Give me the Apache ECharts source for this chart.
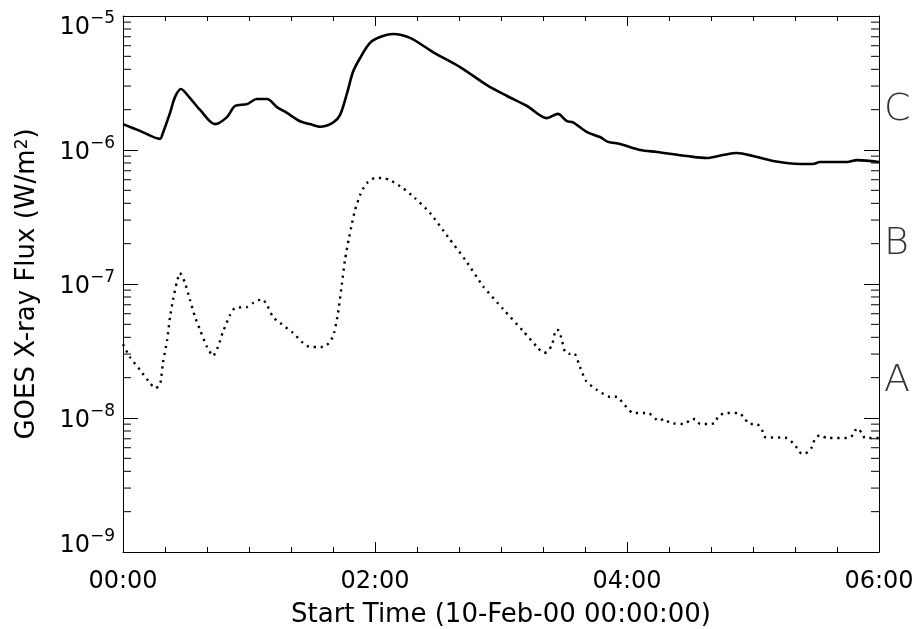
<!DOCTYPE html>
<html>
<head>
<meta charset="utf-8">
<script src="https://cdn.jsdelivr.net/npm/echarts@6/dist/echarts.min.js"></script>
<style>
  html, body { margin: 0; padding: 0; background: #fff; }
  #chart { width: 917px; height: 629px; }
</style>
</head>
<body>
<div id="chart"></div>
<script>
// minutes after 10-Feb-00 00:00:00
const longTimes = [0, 8.1, 17.6, 19.0, 22.4, 24.8, 27.6, 31.9, 36.7, 43.8, 49.5, 53.3, 59.0, 63.8, 68.6, 73.3, 78.1, 84.3, 89.0, 93.8, 100.0, 103.3, 106.7, 109.5, 112.9, 117.6, 122.4, 128.6, 136.7, 147.6, 160.5, 173.3, 182.9, 192.4, 201.9, 207.1, 211.4, 214.3, 221.0, 227.1, 231.0, 236.7, 246.2, 254.3, 268.6, 278.1, 285.7, 292.4, 300.0, 309.5, 322.4, 328.6, 331.9, 344.8, 349.5, 360]
const longFlux = [1.56e-6, 1.39e-6, 1.21e-6, 1.34e-6, 1.89e-6, 2.49e-6, 2.85e-6, 2.44e-6, 1.99e-6, 1.56e-6, 1.76e-6, 2.13e-6, 2.20e-6, 2.40e-6, 2.40e-6, 2.09e-6, 1.89e-6, 1.64e-6, 1.56e-6, 1.49e-6, 1.60e-6, 1.82e-6, 2.66e-6, 3.82e-6, 4.86e-6, 6.30e-6, 6.97e-6, 7.34e-6, 6.86e-6, 5.38e-6, 4.16e-6, 3.05e-6, 2.53e-6, 2.13e-6, 1.73e-6, 1.86e-6, 1.64e-6, 1.61e-6, 1.36e-6, 1.25e-6, 1.15e-6, 1.11e-6, 1.0e-6, 9.66e-7, 9.02e-7, 8.71e-7, 9.18e-7, 9.50e-7, 9.02e-7, 8.28e-7, 7.87e-7, 7.87e-7, 8.13e-7, 8.13e-7, 8.41e-7, 8.13e-7]

const shortTimes = [0, 3.3, 8.1, 12.9, 15.2, 17.6, 19.0, 21.0, 22.4, 23.8, 25.7, 27.1, 29.5, 31.9, 34.3, 36.7, 40.0, 42.9, 45.2, 47.6, 51.0, 53.3, 59.0, 61.9, 66.2, 68.6, 71.4, 74.8, 81.0, 85.7, 89.0, 92.4, 95.2, 98.6, 100.5, 102.4, 104.3, 105.7, 107.6, 109.0, 110.5, 112.9, 114.8, 116.7, 120.0, 123.8, 127.1, 133.3, 139.0, 146.2, 154.8, 163.3, 171.4, 181.0, 190.5, 197.6, 200.5, 202.4, 204.3, 206.2, 207.1, 208.6, 210.5, 212.4, 214.8, 217.6, 220.5, 225.7, 231.9, 235.2, 238.1, 242.9, 250.0, 255.2, 257.6, 260.5, 267.6, 270.0, 272.4, 274.8, 278.6, 281.9, 283.3, 286.7, 293.3, 296.2, 298.1, 301.9, 304.3, 305.7, 316.2, 319.0, 321.0, 323.3, 326.2, 328.1, 329.5, 331.9, 335.2, 345.2, 347.6, 349.5, 351.9, 353.3, 360]
const shortFlux = [3.55e-8, 2.85e-8, 2.28e-8, 1.82e-8, 1.67e-8, 1.76e-8, 2.57e-8, 3.82e-8, 5.67e-8, 7.60e-8, 1.04e-7, 1.21e-7, 1.02e-7, 7.60e-8, 5.67e-8, 4.54e-8, 3.39e-8, 2.90e-8, 3.39e-8, 4.39e-8, 5.87e-8, 6.62e-8, 6.73e-8, 7.21e-8, 7.73e-8, 6.97e-8, 5.67e-8, 5.12e-8, 4.31e-8, 3.63e-8, 3.39e-8, 3.39e-8, 3.39e-8, 3.69e-8, 4.31e-8, 6.08e-8, 1.02e-7, 1.51e-7, 2.20e-7, 2.81e-7, 3.57e-7, 4.61e-7, 5.30e-7, 5.77e-7, 6.18e-7, 6.18e-7, 5.97e-7, 5.20e-7, 4.38e-7, 3.39e-7, 2.24e-7, 1.49e-7, 9.66e-8, 6.50e-8, 4.46e-8, 3.33e-8, 3.05e-8, 3.16e-8, 3.51e-8, 4.54e-8, 4.54e-8, 4.02e-8, 3.11e-8, 3.01e-8, 3.05e-8, 2.40e-8, 1.89e-8, 1.62e-8, 1.44e-8, 1.44e-8, 1.29e-8, 1.09e-8, 1.09e-8, 9.50e-9, 9.84e-9, 9.18e-9, 9.02e-9, 9.66e-9, 9.84e-9, 9.02e-9, 9.02e-9, 9.18e-9, 1.02e-8, 1.09e-8, 1.09e-8, 9.84e-9, 9.02e-9, 9.02e-9, 8.13e-9, 7.21e-9, 7.09e-9, 6.50e-9, 5.97e-9, 5.38e-9, 5.57e-9, 6.08e-9, 6.97e-9, 7.46e-9, 7.09e-9, 7.09e-9, 7.46e-9, 8.41e-9, 7.73e-9, 7.09e-9, 7.09e-9]

// GOES class letters on the right side
const classNames = ['A', 'B', 'C']
const classLevels = [1.9e-8, 2e-7, 2e-6]

const xMin = 0
const xMax = 360
const yMin = 1e-9
const yMax = 1e-5

// log minor ticks 2..9 in each decade
const minorTickValues = []
for (let e = -9; e < -5; e++) {
  for (let k = 2; k <= 9; k++) {
    minorTickValues.push(k * Math.pow(10, e))
  }
}

const font = 'DejaVu Sans'

function hhmm(v) {
  const h = Math.floor(v / 60)
  const m = Math.round(v % 60)
  return String(h).padStart(2, '0') + ':' + String(m).padStart(2, '0')
}

const chart = echarts.init(document.getElementById('chart'))

const xAxisBase = {
  type: 'value',
  min: xMin,
  max: xMax,
  interval: 120,
  splitLine: { show: false },
  axisLine: { show: true, onZero: false, lineStyle: { color: '#000', width: 1 } },
  axisTick: { show: true, inside: true, length: 10, lineStyle: { color: '#000' } },
  minorTick: { show: true, splitNumber: 6, length: 5, lineStyle: { color: '#000' } },
  minorSplitLine: { show: false }
}

const yAxisBase = {
  type: 'log',
  logBase: 10,
  min: yMin,
  max: yMax,
  splitLine: { show: false },
  axisLine: { show: true, onZero: false, lineStyle: { color: '#000', width: 1 } },
  axisTick: { show: true, inside: true, length: 15, lineStyle: { color: '#000' } },
  minorTick: { show: false }
}

const option = {
  backgroundColor: '#fff',
  animation: false,
  grid: { left: 123, right: 38, top: 16, bottom: 77, containLabel: false, outerBoundsMode: 'none' },
  xAxis: [
    Object.assign({}, xAxisBase, {
      position: 'bottom',
      name: 'Start Time (10-Feb-00 00:00:00)',
      nameLocation: 'middle',
      nameGap: 50,
      nameTextStyle: { fontFamily: font, fontSize: 26, color: '#000' },
      axisLabel: {
        margin: 18,
        fontFamily: font,
        fontSize: 24,
        color: '#000',
        formatter: hhmm
      }
    }),
    Object.assign({}, xAxisBase, {
      position: 'top',
      axisLabel: { show: false }
    })
  ],
  yAxis: [
    Object.assign({}, yAxisBase, {
      position: 'left',
      name: 'GOES X-ray Flux (W/m{sup|2})',
      nameLocation: 'middle',
      nameGap: 83,
      nameRotate: 90,
      nameTextStyle: {
        fontFamily: font,
        fontSize: 26,
        color: '#000',
        rich: {
          sup: { fontFamily: font, fontSize: 17, verticalAlign: 'top', lineHeight: 17, color: '#000' }
        }
      },
      axisLabel: {
        margin: 8,
        color: '#000',
        formatter: function (v) {
          const e = Math.round(Math.log10(v))
          const txt = '{b|10}{s|\u2212' + Math.abs(e) + '}'
          if (e === -5) return '{gap|}\n' + txt
          if (e === -9) return txt + '\n{gap|}'
          return txt
        },
        rich: {
          b: { fontFamily: font, fontSize: 24, lineHeight: 30, verticalAlign: 'bottom', color: '#000' },
          s: { fontFamily: font, fontSize: 17, lineHeight: 20, verticalAlign: 'top', color: '#000' },
          gap: { lineHeight: 18, fontSize: 1 }
        }
      }
    }),
    Object.assign({}, yAxisBase, {
      position: 'right',
      axisLabel: { show: false }
    })
  ],
  series: [
    {
      name: 'long',
      type: 'line',
      xAxisIndex: 0,
      yAxisIndex: 0,
      data: longTimes.map((t, i) => [t, longFlux[i]]),
      showSymbol: false,
      smooth: 0.3,
      lineStyle: { color: '#000', width: 2.6 },
      clip: true
    },
    {
      name: 'short',
      type: 'line',
      xAxisIndex: 0,
      yAxisIndex: 0,
      data: shortTimes.map((t, i) => [t, shortFlux[i]]),
      showSymbol: false,
      smooth: 0.2,
      lineStyle: { color: '#000', width: 2.4, type: [2.2, 4.8], cap: 'butt' },
      clip: true
    },
    {
      name: 'minorTicks',
      type: 'custom',
      xAxisIndex: 0,
      yAxisIndex: 0,
      silent: true,
      clip: false,
      data: minorTickValues.map(v => [xMin, v]),
      renderItem: function (params, api) {
        const v = api.value(1)
        const l = api.coord([xMin, v])
        const r = api.coord([xMax, v])
        const style = { stroke: '#000', lineWidth: 1 }
        return {
          type: 'group',
          children: [
            { type: 'line', shape: { x1: l[0], y1: l[1], x2: l[0] + 8, y2: l[1] }, style: style },
            { type: 'line', shape: { x1: r[0] - 8, y1: r[1], x2: r[0], y2: r[1] }, style: style }
          ]
        }
      }
    },
    {
      name: 'classes',
      type: 'scatter',
      xAxisIndex: 0,
      yAxisIndex: 0,
      silent: true,
      clip: false,
      symbolSize: 0,
      data: classLevels.map((v, i) => [xMax, v, classNames[i]]),
      label: {
        show: true,
        position: 'right',
        distance: 5,
        fontFamily: font,
        fontWeight: 200,
        fontSize: 38,
        color: '#000',
        formatter: p => p.value[2]
      }
    }
  ]
}

chart.setOption(option)
</script>
</body>
</html>
